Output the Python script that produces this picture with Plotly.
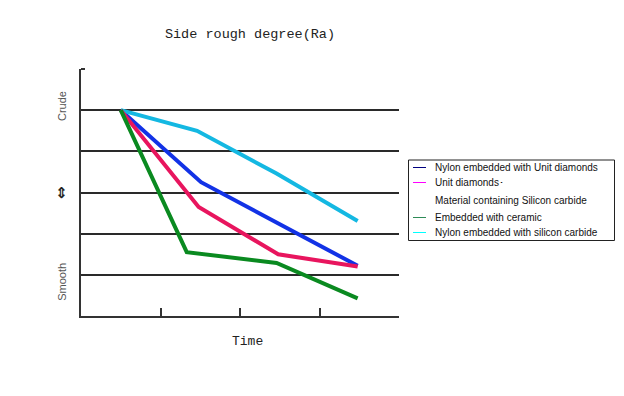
import plotly.graph_objects as go

# ---- data ----
series_names = ["Nylon embedded with silicon carbide", "Nylon embedded with Unit diamonds",
                "Unit diamonds", "Embedded with ceramic"]
cyan_x = [0.5, 1.46, 2.46, 3.48]
cyan_y = [5.0, 4.5, 3.46, 2.31]
blue_x = [0.5, 1.51, 3.48]
blue_y = [5.0, 3.25, 1.22]
red_x = [0.5, 1.48, 2.48, 3.48]
red_y = [5.0, 2.65, 1.5, 1.2]
green_x = [0.5, 1.33, 2.46, 3.48]
green_y = [5.0, 1.55, 1.29, 0.43]

x_ticks = [1, 2, 3, 4]
grid_vals = [1, 2, 3, 4, 5]
y_label_vals = [5.1, 3.0, 0.83]
y_label_text = ["Crude", "⇕", "Smooth"]
legend_labels = ["Nylon embedded with Unit diamonds", "Unit diamonds･",
                 "Material containing Silicon carbide", "Embedded with ceramic",
                 "Nylon embedded with silicon carbide"]
legend_colors = ["#000080", "#ff00ff", None, "#2e8b57", "#00ffff"]

OFF = 8  # page body margin
W, H = 624, 396
L, R, T, B = 81, 399, 69, 316


def px(x):
    return (x - L) / (R - L)


def py(y):
    return (B - y) / (B - T)


fig = go.Figure()
line_w = 4
for xs, ys, col, nm in [(blue_x, blue_y, "#1232e6", series_names[1]),
                        (cyan_x, cyan_y, "#14b8e2", series_names[0]),
                        (red_x, red_y, "#e8155e", series_names[2]),
                        (green_x, green_y, "#0a8a20", series_names[3])]:
    fig.add_trace(go.Scatter(x=xs, y=ys, mode="lines", name=nm,
                             line=dict(color=col, width=line_w), showlegend=False))

annotations = []
shapes = []
# y labels
for v, t in zip(y_label_vals, y_label_text):
    if t == "⇕":
        annotations.append(dict(x=px(61), xref="paper", y=v, yref="y", text="<b>" + t + "</b>",
                                showarrow=False,
                                font=dict(family="DejaVu Sans", size=15, color="#222"),
                                xanchor="center", yanchor="middle"))
    else:
        annotations.append(dict(x=px(62), xref="paper", y=v, yref="y", text=t, showarrow=False,
                                textangle=-90,
                                font=dict(family="Liberation Sans", size=11, color="#555"),
                                xanchor="center", yanchor="middle"))
# x title
annotations.append(dict(x=px(247), xref="paper", y=py(341), yref="paper", text="Time",
                        showarrow=False, font=dict(family="Liberation Mono", size=13, color="#222"),
                        xanchor="center", yanchor="middle"))
# legend
shapes.append(dict(type="rect", xref="paper", yref="paper", x0=px(408.5), x1=px(614.5),
                   y0=py(160), y1=py(240.5), line=dict(color="#222", width=1), fillcolor="white"))
row_y = [167, 182, 200, 217, 232]
for lab, col, ry in zip(legend_labels, legend_colors, row_y):
    if col:
        shapes.append(dict(type="line", xref="paper", yref="paper", x0=px(413), x1=px(426),
                           y0=py(ry + 0.5), y1=py(ry + 0.5), line=dict(color=col, width=1)))
    annotations.append(dict(x=px(433), xref="paper", y=py(ry), yref="paper", text=lab,
                            showarrow=False, xanchor="left", yanchor="middle",
                            font=dict(family="Liberation Sans", size=10, color="#111")))

fig.update_layout(
    width=W, height=H,
    margin=dict(l=L - OFF, r=W - R + OFF, t=T - OFF, b=H - B + OFF, pad=0),
    paper_bgcolor="white", plot_bgcolor="white",
    title=dict(text="Side rough degree(Ra)", x=px(250), xref="paper", xanchor="center",
               y=1 - (33 - OFF) / H, yref="container", yanchor="middle",
               font=dict(family="Liberation Mono", size=13.5, color="#222")),
    xaxis=dict(range=[0, 4], tickvals=x_ticks, ticks="inside", ticklen=8, tickwidth=2,
               tickcolor="#333", showticklabels=False, showgrid=False, zeroline=False,
               showline=True, linecolor="#333", linewidth=2),
    yaxis=dict(range=[0, 6], tickvals=grid_vals, ticks="", showticklabels=False,
               showgrid=True, gridcolor="#2a2a2a", gridwidth=2, zeroline=False,
               showline=True, linecolor="#333", linewidth=2,
               minor=dict(tickvals=[6], ticks="inside", ticklen=4, tickwidth=2,
                          tickcolor="#333", showgrid=False)),
    annotations=annotations, shapes=shapes, showlegend=False,
)

fig.write_html("out.html")
